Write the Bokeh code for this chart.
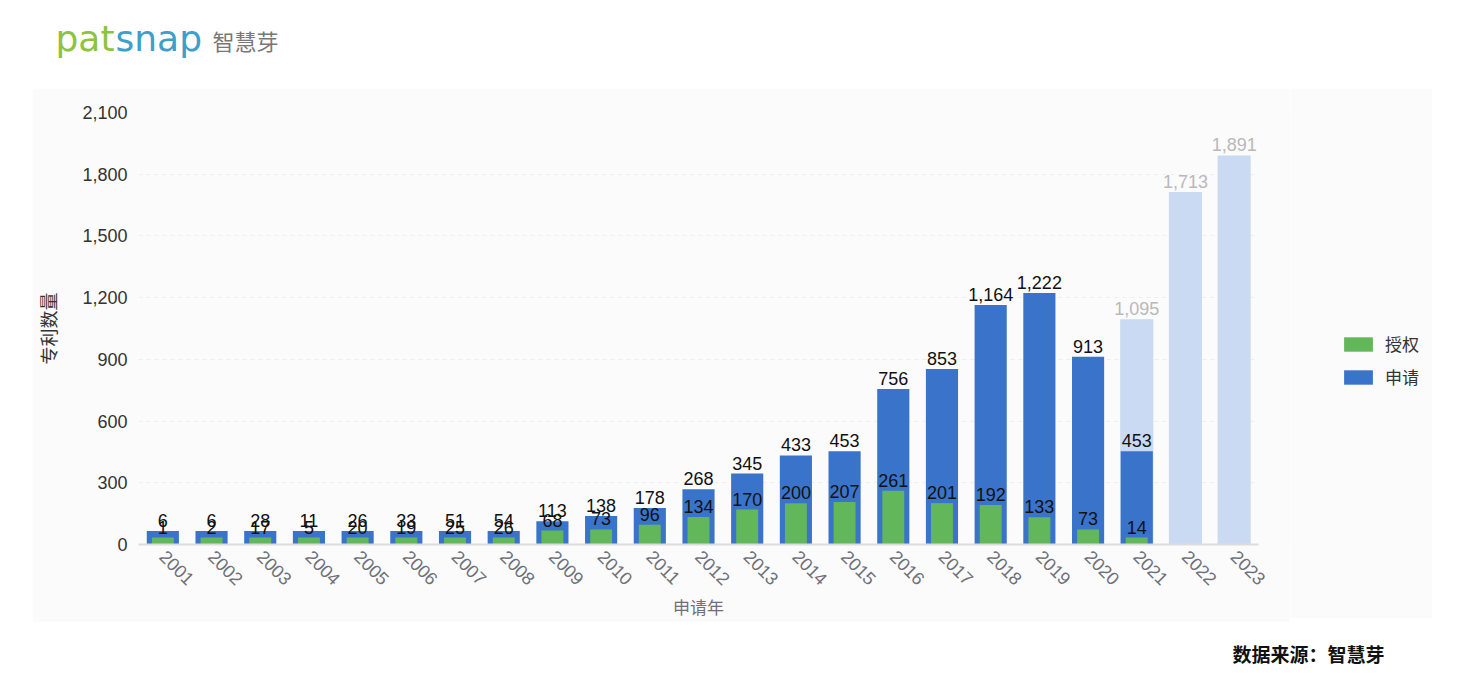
import numpy as np
from bokeh.plotting import figure
from bokeh.layouts import column, row
from bokeh.models import (ColumnDataSource, FactorRange, LabelSet, Legend, LegendItem,
                          NumeralTickFormatter, FixedTicker, Spacer)
from bokeh.core.properties import value
from bokeh.embed import file_html
from bokeh.resources import INLINE

# ---------------- data ----------------
years = [str(y) for y in range(2001, 2024)]
applications = [6, 6, 28, 11, 26, 33, 51, 54, 113, 138, 178, 268, 345, 433, 453,
                756, 853, 1164, 1222, 913, 453, None, None]
grants = [1, 2, 17, 5, 20, 19, 25, 26, 68, 73, 96, 134, 170, 200, 207,
          261, 201, 192, 133, 73, 14, None, None]
estimated_years = ["2021", "2022", "2023"]
estimated = [1095, 1713, 1891]
y_ticks = [0, 300, 600, 900, 1200, 1500, 1800, 2100]
series_names = ["授权", "申请"]

# display style: minimum visible bar heights (like echarts barMinHeight)
BLUE_MIN = 66
GREEN_MIN = 34

BLUE = "#3a74ca"
GREEN = "#62b75a"
LIGHT = "#c9daf2"
CJK = "Noto Sans CJK SC"
NUM = "Liberation Sans"
PANEL = "#fbfbfb"

app_years = [y for y, v in zip(years, applications) if v is not None]
app_vals = [v for v in applications if v is not None]
gr_years = [y for y, v in zip(years, grants) if v is not None]
gr_vals = [v for v in grants if v is not None]

app_src = ColumnDataSource(dict(x=app_years, top=np.maximum(app_vals, BLUE_MIN),
                                lab=[f"{v:,}" for v in app_vals]))
gr_src = ColumnDataSource(dict(x=gr_years, top=np.maximum(gr_vals, GREEN_MIN),
                               lab=[f"{v:,}" for v in gr_vals]))
est_src = ColumnDataSource(dict(x=estimated_years, top=estimated,
                                lab=[f"{v:,}" for v in estimated]))

# ---------------- header (logo) ----------------
HW, HH = 1478, 88
header = figure(width=HW, height=HH, x_range=(0, HW), y_range=(HH, 0), output_backend="svg",
                toolbar_location=None, min_border=0, outline_line_color=None)
header.axis.visible = False
header.grid.visible = False
header.text(x=[55], y=[38], text=["pat"], text_font=value("DejaVu Sans"), text_font_size="36px",
            text_color="#8cc43f", text_align="left", text_baseline="middle")
header.text(x=[115], y=[38], text=["snap"], text_font=value("DejaVu Sans"), text_font_size="36px",
            text_color="#3e9fc8", text_align="left", text_baseline="middle")
header.text(x=[212], y=[39], text=["智慧芽"], text_font=value(CJK), text_font_size="22px",
            text_color="#777777", text_align="left", text_baseline="middle")

# ---------------- main chart ----------------
p = figure(x_range=FactorRange(*years, range_padding=0), y_range=(0, 2100),
           frame_width=1120, frame_height=432, output_backend="svg", toolbar_location=None,
           min_border_left=106, min_border_right=32, min_border_top=24, min_border_bottom=74)
p.background_fill_color = PANEL
p.border_fill_color = PANEL
p.outline_line_color = None

r_est = p.vbar(x="x", top="top", width=0.68, source=est_src, color=LIGHT, line_color=None)
r_app = p.vbar(x="x", top="top", width=0.66, source=app_src, color=BLUE, line_color=None)
r_gr = p.vbar(x="x", top="top", width=0.45, source=gr_src, color=GREEN, line_color=None)

lab_kw = dict(text_font=value(NUM), text_font_size="18px", text_align="center",
              text_baseline="alphabetic", y_offset=4)
p.add_layout(LabelSet(x="x", y="top", text="lab", source=est_src, text_color="#b9b9b9", **lab_kw))
p.add_layout(LabelSet(x="x", y="top", text="lab", source=app_src, text_color="#111111", **lab_kw))
p.add_layout(LabelSet(x="x", y="top", text="lab", source=gr_src, text_color="#111111", **lab_kw))

# axes
p.yaxis.ticker = FixedTicker(ticks=y_ticks)
p.yaxis.formatter = NumeralTickFormatter(format="0,0")
p.yaxis.axis_line_color = None
p.yaxis.major_tick_line_color = None
p.yaxis.minor_tick_line_color = None
p.yaxis.major_label_text_font = NUM
p.yaxis.major_label_text_font_size = "18px"
p.yaxis.major_label_text_color = "#333333"
p.yaxis.major_label_standoff = 5
p.yaxis.axis_label = "专利数量"
p.yaxis.axis_label_text_font = CJK
p.yaxis.axis_label_text_font_style = "normal"
p.yaxis.axis_label_text_font_size = "18px"
p.yaxis.axis_label_text_color = "#333333"
p.yaxis.axis_label_standoff = 18

p.xaxis.axis_line_color = "#dcdcdc"
p.xaxis.axis_line_width = 2
p.xaxis.major_tick_line_color = None
p.xaxis.minor_tick_line_color = None
p.xaxis.major_label_orientation = -np.pi / 4
p.xaxis.major_label_text_font = NUM
p.xaxis.major_label_text_font_size = "18px"
p.xaxis.major_label_text_color = "#6e7079"
p.xaxis.major_label_standoff = 3
p.xaxis.axis_label = "申请年"
p.xaxis.axis_label_text_font = CJK
p.xaxis.axis_label_text_font_style = "normal"
p.xaxis.axis_label_text_font_size = "17px"
p.xaxis.axis_label_text_color = "#6e7079"
p.xaxis.axis_label_standoff = 0

p.xgrid.grid_line_color = None
p.ygrid.grid_line_color = "#eeeeee"
p.ygrid.grid_line_dash = "4 4"

# ---------------- legend panel ----------------
LW, LH = 142, 530
lg = figure(width=LW, height=LH, x_range=(0, LW), y_range=(0, LH), output_backend="svg",
            toolbar_location=None, min_border=0, outline_line_color=None)
lg.axis.visible = False
lg.grid.visible = False
lg.background_fill_color = PANEL
lg.border_fill_color = PANEL
# off-range stand-in glyphs, only used to draw the legend swatches
lr_gr = lg.vbar(x=[-1000], top=[0], width=1, color=GREEN, line_color=None)
lr_app = lg.vbar(x=[-1000], top=[0], width=1, color=BLUE, line_color=None)
legend = Legend(items=[LegendItem(label=series_names[0], renderers=[lr_gr]),
                       LegendItem(label=series_names[1], renderers=[lr_app])],
                location=(50, 151), orientation="vertical",
                glyph_width=36, glyph_height=18, label_standoff=9, spacing=8,
                padding=0, margin=0, border_line_color=None, background_fill_alpha=0,
                label_text_font=CJK, label_text_font_size="17px", label_text_color="#333333")
lg.add_layout(legend)

# ---------------- footer ----------------
FW, FH = 1478, 70
footer = figure(width=FW, height=FH, x_range=(0, FW), y_range=(FH, 0), output_backend="svg",
                toolbar_location=None, min_border=0, outline_line_color=None)
footer.axis.visible = False
footer.grid.visible = False
footer.text(x=[1308], y=[31], text=["数据来源：智慧芽"], text_font=value(CJK), text_font_size="19px",
            text_font_style="bold", text_color="#111111", text_align="center", text_baseline="middle")

layout = column(header, row(Spacer(width=32, height=LH), p, lg, spacing=0), footer, spacing=0)
open("out.html", "w").write(file_html(layout, INLINE))
